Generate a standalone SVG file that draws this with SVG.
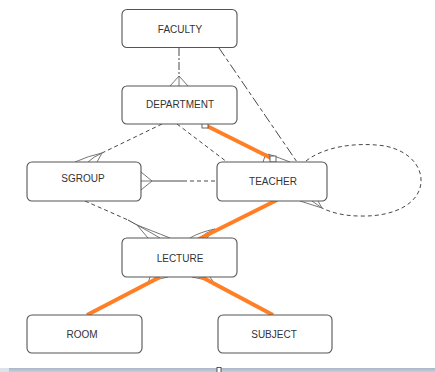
<svg xmlns="http://www.w3.org/2000/svg" width="435" height="372" viewBox="0 0 435 372">
<defs>
<linearGradient id="bar" x1="0" y1="0" x2="0" y2="1"><stop offset="0" stop-color="#aab6c8"/><stop offset="1" stop-color="#c4cedc"/></linearGradient>
</defs>
<style>
.box{fill:#fff;stroke:#555;stroke-width:1.1}
.lbl{font-family:"Liberation Sans",Arial,sans-serif;font-size:10px;fill:#333;text-anchor:middle}
.ln{fill:none;stroke:#333;stroke-width:0.9}
.dash{fill:none;stroke:#333;stroke-width:0.9;stroke-dasharray:4,3}
.cf{fill:none;stroke:#666;stroke-width:0.9}
.or{fill:none;stroke:#ff7f27;stroke-width:4}
.sq{fill:#fff;stroke:#444;stroke-width:0.8}
</style>
<rect width="435" height="372" fill="#fff"/>
<g id="connectors">
<path class="ln" d="M179,48 V77" stroke-dasharray="8,2,2,2"/>
<path class="cf" d="M179,76 L170,86 M179,76 L179,86 M179,76 L188,86"/>
<path class="ln" d="M219,48 L297,162" stroke-dasharray="10,3,4,3"/>
<path class="dash" d="M162,124 L102,153"/>
<path class="cf" d="M102,153 Q88,156 75,162 M102,153 Q93,157 88,162 M102,153 L97,162"/>
<path class="dash" d="M177,124 L227,162" stroke-dasharray="6,3,4,3"/>
<path class="cf" d="M266,153 L263,162 M268,154 Q272,158 276,162 M268,154 Q280,158 290,162"/>
<path class="cf" d="M152,181 L141,172 M152,181 L141,181 M152,181 L141,190"/>
<path class="ln" d="M152,181 H183"/>
<path class="dash" d="M183,181 H217"/>
<path class="dash" d="M85,201 L128,220"/>
<path class="ln" d="M128,220 L137,225"/>
<path class="cf" d="M137,225 Q150,230 170,238 M137,225 Q150,232 160,238 M137,225 L148,238"/>
<path class="cf" d="M215,229 Q200,232 190,238 M215,229 Q205,233 200,238 M215,229 L207,238"/>
<path class="cf" d="M148,283 Q155,279 168,277 M148,283 L156,277 M148,283 L150,277"/>
<path class="cf" d="M214,283 Q205,279 192,277 M214,283 L203,277 M214,283 L210,277"/>
<path class="dash" d="M306,161 C325,146 358,142 385,146 C410,151 422,167 421,182 C420,203 395,217 360,216 C343,216 330,212 322,208"/>
<path class="cf" d="M322,208 L300,201 M322,208 L312,201 M322,208 L318,201"/>
<path class="or" d="M205,125 L273,159"/>
<path class="or" d="M277,200 L197,240"/>
<path class="or" d="M160,277 L87,315"/>
<path class="or" d="M196,274 L273,315"/>
<rect class="sq" x="202" y="122" width="6" height="6"/>
<rect class="sq" x="270" y="156" width="6" height="6"/>
</g>
<g id="faculty"><rect class="box" x="122" y="9.5" width="115" height="38" rx="5"/><text class="lbl" x="180" y="33">FACULTY</text></g>
<g id="department"><rect class="box" x="122" y="86" width="115" height="38" rx="5"/><text class="lbl" x="180" y="108">DEPARTMENT</text></g>
<g id="sgroup"><rect class="box" x="27" y="162" width="114" height="39" rx="5"/><text class="lbl" x="83" y="182">SGROUP</text></g>
<g id="teacher"><rect class="box" x="217" y="162" width="110" height="39" rx="5"/><text class="lbl" x="273" y="185" font-size="10.5">TEACHER</text></g>
<g id="lecture"><rect class="box" x="122" y="238" width="115" height="39" rx="5"/><text class="lbl" x="180" y="262">LECTURE</text></g>
<g id="room"><rect class="box" x="27" y="315" width="115" height="38" rx="5"/><text class="lbl" x="82" y="338">ROOM</text></g>
<g id="subject"><rect class="box" x="218" y="315" width="114" height="38" rx="5"/><text class="lbl" x="274" y="338">SUBJECT</text></g>
<rect x="0" y="368" width="435" height="4" fill="url(#bar)"/>
<rect x="0" y="368" width="9" height="4" fill="#dbe2ec"/>
<rect x="217" y="367.5" width="4" height="5" fill="#fff" stroke="#333" stroke-width="0.8"/>
</svg>
